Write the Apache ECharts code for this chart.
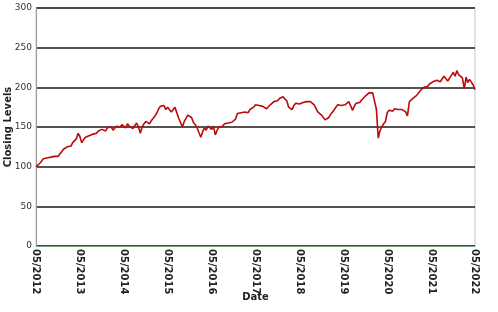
<!DOCTYPE html>
<html><head><meta charset="utf-8">
<script src="https://cdn.jsdelivr.net/npm/echarts@6/dist/echarts.min.js"></script>
<style>html,body{margin:0;padding:0;background:#fff}#c{width:498px;height:312px}</style>
</head><body><div id="c"></div>
<script>
// semi-monthly closing levels starting 2012-05-01 (1st and 16th of each month)
const startYear = 2012, startMonth = 4; // May (0-based)
const closingLevels = [
100,102,104,107,110,108,111,113,112,110,113,111,113,116,119,122,124,125,127,126,
130,129,135,142,138,130,134,137,136,139,138,141,140,142,145,143,147,148,145,149,
147,150,146,148,151,149,150,153,152,149,154,151,152,148,152,155,150,142,150,154,
157,155,154,158,161,164,168,173,176,174,177,172,175,173,169,172,175,174,161,156,
150,157,161,165,166,162,156,153,149,143,137,144,149,146,151,149,147,151,140,146,
150,152,151,154,152,155,153,156,155,160,167,166,168,167,169,171,168,172,171,175,
178,176,177,175,176,175,173,174,178,179,182,184,183,186,185,188,190,183,175,177,
172,177,180,182,179,178,181,179,182,180,182,181,178,177,169,167,165,162,159,157,
162,166,169,172,175,178,176,177,175,178,180,182,177,171,176,180,182,181,184,186,
189,190,193,191,193,194,172,136,145,150,154,157,168,171,172,170,173,171,172,170,
172,171,169,164,182,184,186,188,190,193,196,198,200,202,201,204,205,207,205,209,
210,207,209,214,212,208,210,215,219,214,221,216,218,212,198,213,206,210,208,203,
197
];
const yTicks = [0, 50, 100, 150, 200, 250, 300];
const xTickLabels = ['05/2012','05/2013','05/2014','05/2015','05/2016','05/2017','05/2018','05/2019','05/2020','05/2021','05/2022'];

const xTickValues = xTickLabels.map(function(s){ return Date.UTC(+s.slice(3), +s.slice(0,2)-1, 1); });
const seriesData = closingLevels.map(function(v, i){
  const m = startMonth + Math.floor(i/2);
  const y = startYear + Math.floor(m/12);
  const mm = m % 12;
  const d = (i % 2 === 0) ? 1 : 16;
  return [Date.UTC(y, mm, d), v];
});

const chart = echarts.init(document.getElementById('c'), null, {renderer:'canvas'});
chart.setOption({
  animation: false,
  backgroundColor: '#fff',
  textStyle: {fontFamily: 'DejaVu Sans'},
  grid: {left: 36, right: 23, top: 8, bottom: 66, containLabel: false, outerBoundsMode: 'none',
         show: true, borderColor: '#c8c8c8', borderWidth: 1},
  xAxis: {
    type: 'value',
    min: xTickValues[0],
    max: xTickValues[xTickValues.length-1],
    name: 'Date',
    nameLocation: 'middle',
    nameGap: 46,
    nameMoveOverlap: false,
    nameTextStyle: {fontWeight: 'bold', fontSize: 10, color: '#222'},
    axisLine: {show: true, onZero: false, lineStyle: {color: '#7a9a7a', width: 1}},
    axisTick: {show: false},
    splitLine: {show: false},
    axisLabel: {
      rotate: -90,
      fontSize: 10,
      fontWeight: 'bold',
      color: '#222',
      margin: 3,
      customValues: xTickValues,
      formatter: function(v){ const i = xTickValues.indexOf(v); return i >= 0 ? xTickLabels[i] : ''; }
    }
  },
  yAxis: {
    type: 'value',
    min: 0, max: 300, interval: 50,
    name: 'Closing Levels',
    nameLocation: 'middle',
    nameGap: 23,
    nameMoveOverlap: false,
    nameTextStyle: {fontWeight: 'bold', fontSize: 10, color: '#222'},
    axisLine: {show: true, lineStyle: {color: '#999', width: 1}},
    axisTick: {show: false},
    axisLabel: {fontSize: 9, color: '#333', margin: 4},
    splitLine: {show: true, lineStyle: {color: '#1a1a1a', width: 1.5}}
  },
  series: [{
    type: 'line',
    data: seriesData,
    showSymbol: false,
    symbol: 'none',
    lineStyle: {color: '#bb0a0a', width: 1.6},
    z: 3
  }]
});
</script></body></html>
